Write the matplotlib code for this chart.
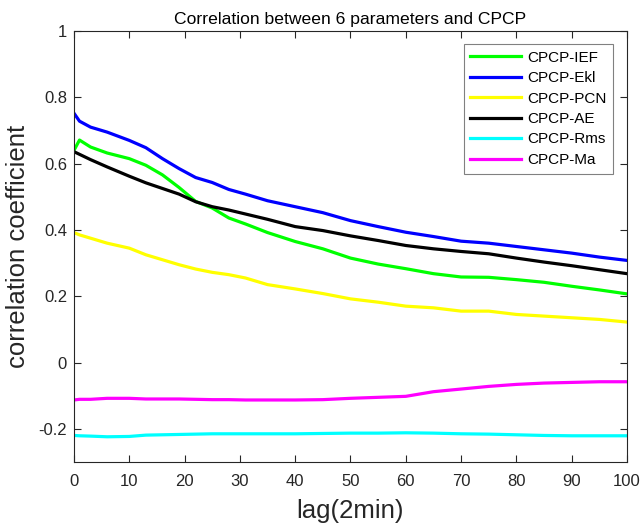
import matplotlib
matplotlib.use("Agg")
from matplotlib import pyplot as plt

plt.rcParams['font.family'] = ['Liberation Sans', 'DejaVu Sans']

lag = [0, 1, 3, 6, 10, 13, 16, 19, 22, 25, 28, 31, 35, 40, 45, 50, 55, 60, 65, 70, 75, 80, 85, 90, 95, 100]

ief = [0.640, 0.671, 0.650, 0.632, 0.615, 0.595, 0.566, 0.528, 0.486, 0.466, 0.436, 0.418, 0.392,
       0.365, 0.343, 0.315, 0.297, 0.283, 0.268, 0.258, 0.257, 0.250, 0.242, 0.230, 0.219, 0.207]
ekl = [0.752, 0.728, 0.710, 0.695, 0.670, 0.648, 0.615, 0.585, 0.558, 0.543, 0.522, 0.508, 0.488,
       0.470, 0.452, 0.428, 0.410, 0.393, 0.380, 0.366, 0.360, 0.350, 0.340, 0.330, 0.318, 0.308]
pcn = [0.392, 0.385, 0.375, 0.360, 0.345, 0.325, 0.310, 0.295, 0.282, 0.272, 0.265, 0.255, 0.235,
       0.222, 0.208, 0.192, 0.182, 0.170, 0.165, 0.155, 0.155, 0.145, 0.140, 0.135, 0.130, 0.122]
ae = [0.636, 0.628, 0.612, 0.590, 0.562, 0.542, 0.525, 0.508, 0.485, 0.470, 0.460, 0.448, 0.432,
      0.410, 0.398, 0.382, 0.368, 0.353, 0.343, 0.335, 0.328, 0.315, 0.303, 0.292, 0.280, 0.268]
rms = [-0.220, -0.221, -0.222, -0.224, -0.223, -0.219, -0.218, -0.217, -0.216, -0.215, -0.215, -0.215, -0.215,
       -0.215, -0.214, -0.213, -0.213, -0.212, -0.213, -0.215, -0.216, -0.218, -0.220, -0.221, -0.221, -0.221]
ma = [-0.113, -0.111, -0.111, -0.108, -0.108, -0.110, -0.110, -0.110, -0.111, -0.112, -0.112, -0.113, -0.113,
      -0.113, -0.112, -0.108, -0.105, -0.102, -0.088, -0.080, -0.072, -0.066, -0.062, -0.060, -0.058, -0.058]

series = [('CPCP-IEF', ief, '#00ff00'), ('CPCP-Ekl', ekl, '#0000ff'), ('CPCP-PCN', pcn, '#ffff00'),
          ('CPCP-AE', ae, '#000000'), ('CPCP-Rms', rms, '#00ffff'), ('CPCP-Ma', ma, '#ff00ff')]

yticks = [-0.2, 0, 0.2, 0.4, 0.6, 0.8, 1]
ylabels = ['-0.2', '0', '0.2', '0.4', '0.6', '0.8', '1']
xticks = list(range(0, 101, 10))

fig = plt.figure(figsize=(6.41, 5.29), dpi=100)
ax = fig.add_axes([0.1154, 0.1267, 0.8628, 0.8147])
for name, vals, col in series:
    ax.plot(lag, vals, color=col, lw=2.3, label=name)

ax.set_xlim(0, 100)
ax.set_ylim(-0.3, 1)
ax.set_xticks(xticks)
ax.set_xticklabels([str(t) for t in xticks])
ax.set_yticks(yticks)
ax.set_yticklabels(ylabels)
ax.tick_params(direction='in', top=True, right=True, length=5, width=0.8,
               colors='#262626', labelsize=12)
ax.tick_params(axis='x', pad=9)
ax.tick_params(axis='y', pad=5)
for s in ax.spines.values():
    s.set_color('#262626')
    s.set_linewidth(0.8)

ax.set_title('Correlation between 6 parameters and CPCP', fontsize=12.6, pad=5)
ax.set_xlabel('lag(2min)', fontsize=18.5, color='#262626', labelpad=7)
ax.set_ylabel('correlation coefficient', fontsize=18.5, color='#262626', labelpad=6)

leg = ax.legend(loc='upper right', bbox_to_anchor=(0.975, 0.970), borderaxespad=0, fontsize=11,
                fancybox=False, edgecolor='#808080', handlelength=3.3, borderpad=0.45,
                labelspacing=0.42, handletextpad=0.4, framealpha=1)
leg.get_frame().set_linewidth(0.8)

fig.savefig('out.png', dpi=100)
